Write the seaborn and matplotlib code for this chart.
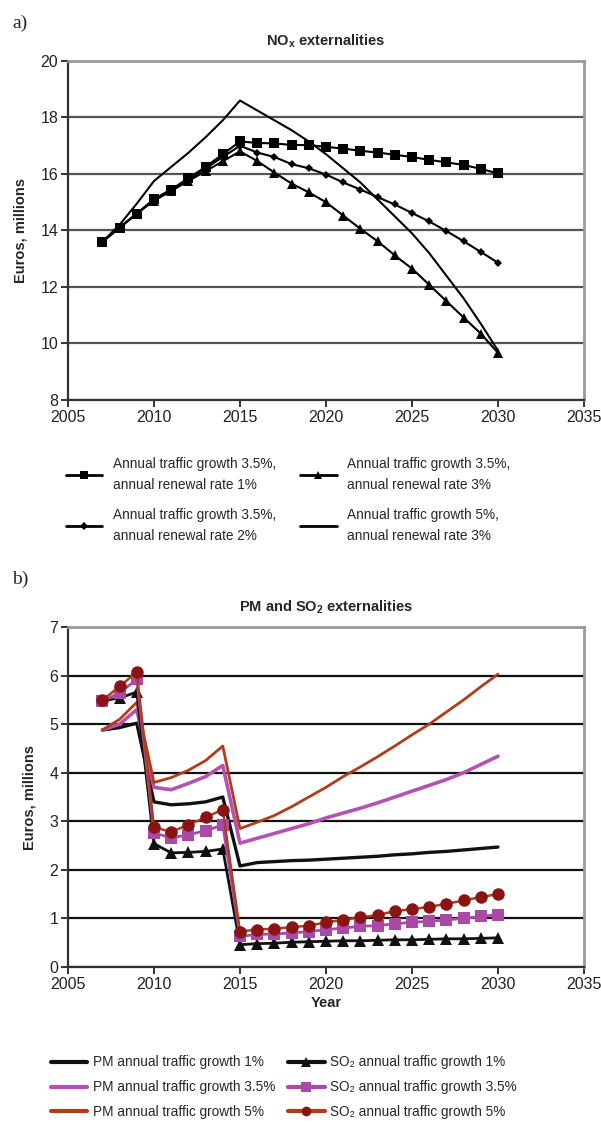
import numpy as np
import pandas as pd
import seaborn as sns
import matplotlib.pyplot as plt
from matplotlib.lines import Line2D

# data
years = list(range(2007, 2031))

nox_renew1 = [13.6, 14.1, 14.6, 15.1, 15.45, 15.85, 16.25, 16.7, 17.15, 17.1, 17.08, 17.03,
              17.02, 16.96, 16.9, 16.82, 16.76, 16.68, 16.6, 16.5, 16.41, 16.32, 16.18, 16.02]
nox_renew2 = [13.6, 14.1, 14.6, 15.1, 15.45, 15.8, 16.2, 16.6, 17.0, 16.76, 16.6, 16.35,
              16.2, 15.98, 15.7, 15.45, 15.18, 14.92, 14.62, 14.32, 13.98, 13.62, 13.24, 12.86]
nox_renew3 = [13.6, 14.1, 14.6, 15.05, 15.4, 15.75, 16.1, 16.45, 16.8, 16.46, 16.05, 15.66,
              15.35, 15.0, 14.53, 14.06, 13.62, 13.12, 12.65, 12.08, 11.5, 10.92, 10.35, 9.67]
nox_growth5 = [13.6, 14.2, 14.95, 15.75, 16.25, 16.75, 17.3, 17.9, 18.6, 18.25, 17.9, 17.55,
               17.15, 16.7, 16.2, 15.7, 15.1, 14.5, 13.9, 13.2, 12.4, 11.6, 10.7, 9.75]

pm_g1 = [4.88, 4.93, 5.02, 3.4, 3.34, 3.36, 3.4, 3.5, 2.08, 2.15, 2.17, 2.19,
         2.2, 2.22, 2.24, 2.26, 2.28, 2.31, 2.33, 2.36, 2.38, 2.41, 2.44, 2.47]
pm_g35 = [4.88, 5.0, 5.3, 3.7, 3.65, 3.78, 3.92, 4.15, 2.55, 2.65, 2.75, 2.85,
          2.95, 3.07, 3.17, 3.27, 3.38, 3.5, 3.62, 3.74, 3.86, 4.0, 4.17, 4.34]
pm_g5 = [4.88, 5.1, 5.45, 3.8, 3.9, 4.05, 4.25, 4.55, 2.85, 2.98, 3.12, 3.3,
         3.5, 3.7, 3.92, 4.12, 4.33, 4.55, 4.78, 5.0, 5.25, 5.5, 5.77, 6.03]
so2_g1 = [5.48, 5.54, 5.66, 2.54, 2.35, 2.36, 2.38, 2.43, 0.46, 0.48, 0.49, 0.51,
          0.52, 0.53, 0.54, 0.54, 0.55, 0.56, 0.56, 0.57, 0.58, 0.58, 0.59, 0.6]
so2_g35 = [5.47, 5.65, 5.92, 2.76, 2.66, 2.72, 2.81, 2.92, 0.63, 0.67, 0.68, 0.7,
           0.73, 0.77, 0.8, 0.84, 0.85, 0.89, 0.92, 0.94, 0.97, 1.0, 1.04, 1.08]
so2_g5 = [5.49, 5.78, 6.07, 2.88, 2.78, 2.93, 3.08, 3.24, 0.73, 0.77, 0.79, 0.82,
          0.85, 0.92, 0.97, 1.02, 1.07, 1.15, 1.19, 1.24, 1.3, 1.37, 1.44, 1.5]

x_ticks = [2005, 2010, 2015, 2020, 2025, 2030, 2035]

nox_labels = ["Annual traffic growth 3.5%,\nannual renewal rate 1%",
              "Annual traffic growth 3.5%,\nannual renewal rate 2%",
              "Annual traffic growth 3.5%,\nannual renewal rate 3%",
              "Annual traffic growth 5%,\nannual renewal rate 3%"]
pm_labels = ["PM annual traffic growth 1%",
             "PM annual traffic growth 3.5%",
             "PM annual traffic growth 5%",
             "SO\u2082 annual traffic growth 1%",
             "SO\u2082 annual traffic growth 3.5%",
             "SO\u2082 annual traffic growth 5%"]

sns.set_theme(style='white')
plt.rcParams['font.family'] = ['Liberation Sans', 'DejaVu Sans']
plt.rcParams['mathtext.default'] = 'regular'

fig = plt.figure(figsize=(6.01, 11.29), dpi=100)
ax1 = fig.add_axes([0.1131, 0.6457, 0.8586, 0.3003])
ax2 = fig.add_axes([0.1131, 0.1435, 0.8586, 0.3011])


def style_axes(ax, ylim, yticks, grid_color):
    ax.set_xlim(2005, 2035)
    ax.set_ylim(*ylim)
    ax.set_xticks(x_ticks)
    ax.set_yticks(yticks)
    ax.yaxis.grid(True, color=grid_color, linewidth=1.6)
    ax.set_axisbelow(True)
    for side in ['left', 'bottom']:
        ax.spines[side].set_color('#333333')
        ax.spines[side].set_linewidth(1.6)
    for side in ['top', 'right']:
        ax.spines[side].set_color('#9a9a9a')
        ax.spines[side].set_linewidth(2.0)
    ax.tick_params(axis='both', direction='out', length=5, width=1.4,
                   color='#333333', labelsize=11.5, pad=2, labelcolor='#222222',
                   bottom=True, left=True)


# ---- a) NOx ----
nox_series = [nox_renew1, nox_renew2, nox_renew3, nox_growth5]
nox_markers = ['s', 'D', '^', None]
nox_msize = [6.5, 4.5, 6.5, 0]
for vals, mk, ms, lab in zip(nox_series, nox_markers, nox_msize, nox_labels):
    sns.lineplot(x=years, y=vals, ax=ax1, color='black', linewidth=1.5,
                 marker=mk, markersize=ms, markeredgewidth=0, label=lab, legend=False)
style_axes(ax1, (8, 20), range(8, 21, 2), '#555555')
ax1.set_ylabel('Euros, millions', fontsize=10.5, fontweight='bold', labelpad=9)
ax1.set_title('NO$_x$ externalities', fontsize=10.5, fontweight='bold', pad=11)

h1 = [Line2D([], [], color='black', lw=2, marker=m, markersize=s * 0.9, markeredgewidth=0)
      for m, s in zip(nox_markers, nox_msize)]
leg_kw = dict(frameon=False, fontsize=9.8, handlelength=2.7, handletextpad=0.75,
              labelspacing=1.2, borderaxespad=0)
for hs, ls, x0 in [(h1[:2], nox_labels[:2], 0.10), (h1[2:], nox_labels[2:], 0.49)]:
    leg = fig.legend(hs, ls, loc='upper left', bbox_to_anchor=(x0, 0.600), **leg_kw)
    for t in leg.get_texts():
        t.set_linespacing(1.6)

# ---- b) PM and SO2 ----
black = '#111111'
magenta = '#b452b2'
brown = '#b03c1c'
sq_col = '#a84aa6'
circ_col = '#8a1414'

sns.lineplot(x=years, y=pm_g1, ax=ax2, color=black, linewidth=2.4, legend=False)
sns.lineplot(x=years, y=pm_g35, ax=ax2, color=magenta, linewidth=2.6, legend=False)
sns.lineplot(x=years, y=pm_g5, ax=ax2, color=brown, linewidth=2.0, legend=False)
sns.lineplot(x=years, y=so2_g1, ax=ax2, color=black, linewidth=2.0, marker='^',
             markersize=8, markeredgewidth=0, legend=False)
sns.lineplot(x=years, y=so2_g35, ax=ax2, color=sq_col, linewidth=2.0, marker='s',
             markersize=8, markeredgewidth=0, legend=False)
sns.lineplot(x=years, y=so2_g5, ax=ax2, color=brown, linewidth=1.8, marker='o',
             markersize=9, markerfacecolor=circ_col, markeredgewidth=0, legend=False)
style_axes(ax2, (0, 7), range(0, 8), '#111111')
ax2.set_ylabel('Euros, millions', fontsize=10.5, fontweight='bold', labelpad=9)
ax2.set_xlabel('Year', fontsize=10.5, fontweight='bold', labelpad=3)
ax2.set_title('PM and SO$_2$ externalities', fontsize=10.5, fontweight='bold', pad=11)

h2 = [Line2D([], [], color=black, lw=3),
      Line2D([], [], color=magenta, lw=3),
      Line2D([], [], color=brown, lw=3),
      Line2D([], [], color=black, lw=3, marker='^', markersize=7, markeredgewidth=0),
      Line2D([], [], color=sq_col, lw=3, marker='s', markersize=7, markeredgewidth=0),
      Line2D([], [], color=brown, lw=3, marker='o', markersize=7,
             markerfacecolor=circ_col, markeredgewidth=0)]
leg_kw2 = dict(frameon=False, fontsize=9.8, handlelength=2.7, handletextpad=0.4,
               labelspacing=0.8, borderaxespad=0)
fig.legend(h2[:3], pm_labels[:3], loc='upper left', bbox_to_anchor=(0.075, 0.070), **leg_kw2)
fig.legend(h2[3:], pm_labels[3:], loc='upper left', bbox_to_anchor=(0.47, 0.070), **leg_kw2)

fig.text(0.02, 0.975, 'a)', fontsize=14, family='Liberation Serif')
fig.text(0.02, 0.483, 'b)', fontsize=14, family='Liberation Serif')

fig.savefig('out.png', dpi=100, facecolor='white')
